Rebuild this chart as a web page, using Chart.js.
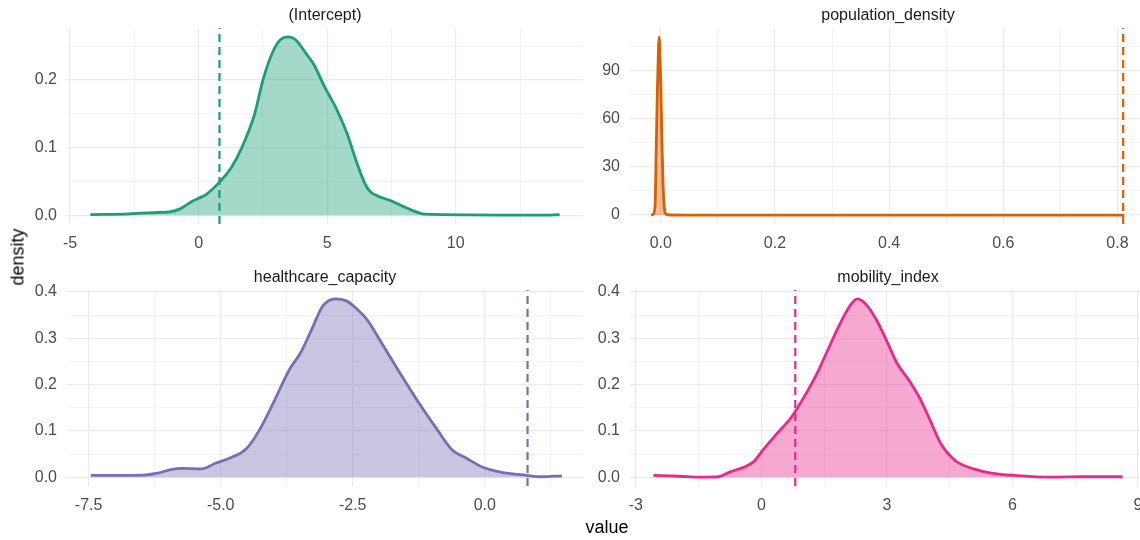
<!DOCTYPE html>
<html>
<head>
<meta charset="utf-8">
<script src="https://cdn.jsdelivr.net/npm/chart.js@4.4.1/dist/chart.umd.min.js"></script>
<style>
  html, body { margin: 0; padding: 0; background: #fff; }
  body { width: 1140px; height: 540px; position: relative; overflow: hidden; font-family: 'Liberation Sans', Arial, sans-serif; }
  canvas { position: absolute; }
  .axis-title { position: absolute; color: #000; font-size: 18px; white-space: nowrap; }
</style>
</head>
<body>
<canvas id="pIntercept" width="590" height="256" style="left:0px;top:0px"></canvas>
<canvas id="pPop" width="590" height="256" style="left:563px;top:0px"></canvas>
<canvas id="pHealth" width="590" height="256" style="left:0px;top:262px"></canvas>
<canvas id="pMob" width="590" height="256" style="left:563px;top:262px"></canvas>
<div class="axis-title" style="left:18px;top:257px;transform:translate(-50%,-50%) rotate(-90deg)">density</div>
<div class="axis-title" style="left:607px;top:527px;transform:translate(-50%,-50%)">value</div>

<script>
// posterior densities
const vlineX = 0.81;

const interceptX = [-4.21, -2.7, -1.6, -1.12, -0.74, -0.23, 0.0, 0.3, 0.81, 1.28, 1.68, 2.18, 2.5, 2.9, 3.19, 3.48, 3.76, 4.2, 4.48, 4.91, 5.34, 5.78, 6.13, 6.49, 6.7, 6.93, 7.5, 8.07, 8.8, 10.5, 13.4, 14.04];
const interceptY = [0.001, 0.002, 0.004, 0.005, 0.009, 0.021, 0.025, 0.031, 0.049, 0.071, 0.1, 0.15, 0.2, 0.243, 0.26, 0.264, 0.26, 0.238, 0.223, 0.189, 0.159, 0.12, 0.08, 0.045, 0.034, 0.029, 0.021, 0.011, 0.0015, 0.0005, 0.0, 0.001];

const popX = [-0.017, -0.013, -0.010, -0.008, -0.006, -0.004, -0.003, -0.002, 0.000, 0.002, 0.004, 0.006, 0.008, 0.011, 0.05, 0.3, 0.6, 0.812];
const popY = [0, 0.6, 7, 42, 78, 105, 111, 106, 80, 45, 18, 5, 1, 0.2, 0, 0, 0, 0];

const healthX = [-7.46, -6.8, -6.41, -6.22, -5.92, -5.73, -5.36, -5.1, -4.79, -4.51, -4.27, -3.98, -3.7, -3.49, -3.28, -3.07, -2.83, -2.61, -2.44, -2.23, -1.95, -1.6, -1.24, -0.89, -0.61, -0.33, -0.05, 0.3, 0.79, 1.08, 1.46];
const healthY = [0.004, 0.004, 0.005, 0.008, 0.017, 0.019, 0.018, 0.03, 0.043, 0.062, 0.101, 0.166, 0.232, 0.268, 0.318, 0.369, 0.385, 0.38, 0.365, 0.34, 0.289, 0.224, 0.159, 0.101, 0.058, 0.04, 0.022, 0.011, 0.004, 0.001, 0.003];

const mobX = [-2.58, -1.97, -1.45, -1.02, -0.76, -0.41, -0.19, 0.03, 0.37, 0.72, 1.07, 1.33, 1.59, 1.85, 2.11, 2.29, 2.5, 2.72, 2.98, 3.24, 3.55, 3.81, 4.03, 4.29, 4.63, 5.07, 5.5, 6.03, 6.98, 7.59, 8.63];
const mobY = [0.004, 0.002, 0.0, 0.001, 0.011, 0.022, 0.033, 0.058, 0.094, 0.13, 0.181, 0.224, 0.275, 0.326, 0.369, 0.385, 0.373, 0.344, 0.297, 0.246, 0.206, 0.166, 0.123, 0.072, 0.036, 0.018, 0.009, 0.004, 0.0, 0.001, 0.001];

// axis limits (ggplot expanded ranges)
const interceptXLim = [-5.12, 14.95], interceptYLim = [-0.013, 0.277];
const popXLim = [-0.054, 0.85], popYLim = [-5.55, 116.5];
const healthXLim = [-7.91, 1.86], healthYLim = [-0.019, 0.404];
const mobXLim = [-3.14, 9.19], mobYLim = [-0.019, 0.404];

// ticks: major (labelled) and minor (grid only)
const interceptXMajor = [-5, 0, 5, 10], interceptXLabels = ['-5', '0', '5', '10'], interceptXMinor = [-2.5, 2.5, 7.5, 12.5];
const interceptYMajor = [0, 0.1, 0.2], interceptYLabels = ['0.0', '0.1', '0.2'], interceptYMinor = [0.05, 0.15, 0.25];
const popXMajor = [0, 0.2, 0.4, 0.6, 0.8], popXLabels = ['0.0', '0.2', '0.4', '0.6', '0.8'], popXMinor = [0.1, 0.3, 0.5, 0.7];
const popYMajor = [0, 30, 60, 90], popYLabels = ['0', '30', '60', '90'], popYMinor = [15, 45, 75, 105];
const healthXMajor = [-7.5, -5, -2.5, 0], healthXLabels = ['-7.5', '-5.0', '-2.5', '0.0'], healthXMinor = [-6.25, -3.75, -1.25, 1.25];
const densYMajor = [0, 0.1, 0.2, 0.3, 0.4], densYLabels = ['0.0', '0.1', '0.2', '0.3', '0.4'], densYMinor = [0.05, 0.15, 0.25, 0.35];
const mobXMajor = [-3, 0, 3, 6, 9], mobXLabels = ['-3', '0', '3', '6', '9'], mobXMinor = [-1.5, 1.5, 4.5, 7.5];

const FONT = "'Liberation Sans', Arial, sans-serif";
const GRID = '#EBEBEB';

function makeAxis(lim, major, labels, minor, isX) {
    return {
        type: 'linear',
        min: lim[0],
        max: lim[1],
        bounds: 'data',
        border: { display: false },
        grid: {
            color: GRID,
            drawTicks: false,
            lineWidth: ctx => (ctx.tick && major.includes(ctx.tick.value)) ? 1.2 : 0.6
        },
        afterBuildTicks: scale => {
            scale.ticks = major.concat(minor).sort((a, b) => a - b).map(v => ({ value: v }));
        },
        afterFit: scale => {
            if (isX) scale.height = 32; else scale.width = 67;
        },
        ticks: {
            autoSkip: false,
            maxRotation: 0,
            padding: 10,
            color: '#4D4D4D',
            font: { family: FONT, size: 16 },
            callback: value => {
                const i = major.indexOf(value);
                return i >= 0 ? labels[i] : '';
            }
        }
    };
}

function graficar(id, titulo, color, relleno, xs, ys, xLim, yLim, xMajor, xLabels, xMinor, yMajor, yLabels, yMinor) {
    const puntos = xs.map((x, i) => ({ x: x, y: ys[i] }));
    const linea = [{ x: vlineX, y: yLim[0] }, { x: vlineX, y: yLim[1] }];
    new Chart(document.getElementById(id), {
        type: 'line',
        data: {
            datasets: [{
                data: linea,
                borderColor: color,
                borderWidth: 2.2,
                borderDash: [8, 5],
                pointRadius: 0,
                fill: false,
                order: 0
            }, {
                data: puntos,
                borderColor: color,
                backgroundColor: relleno,
                borderWidth: 2.8,
                pointRadius: 0,
                fill: 'origin',
                cubicInterpolationMode: 'monotone',
                order: 1
            }]
        },
        options: {
            responsive: false,
            animation: false,
            devicePixelRatio: 1,
            layout: { padding: { left: 0, right: 7, top: 0, bottom: 0 } },
            plugins: {
                legend: { display: false },
                tooltip: { enabled: false },
                title: {
                    display: true,
                    text: titulo,
                    fullSize: false,
                    color: '#1A1A1A',
                    font: { family: FONT, size: 16, weight: 'normal', lineHeight: 1.2 },
                    padding: { top: 6, bottom: 2.8 }
                }
            },
            scales: {
                x: makeAxis(xLim, xMajor, xLabels, xMinor, true),
                y: makeAxis(yLim, yMajor, yLabels, yMinor, false)
            }
        }
    });
}

graficar('pIntercept', '(Intercept)', '#1B9E77', 'rgba(27,158,119,0.4)',
    interceptX, interceptY, interceptXLim, interceptYLim,
    interceptXMajor, interceptXLabels, interceptXMinor, interceptYMajor, interceptYLabels, interceptYMinor);
graficar('pPop', 'population_density', '#D95F02', 'rgba(217,95,2,0.4)',
    popX, popY, popXLim, popYLim,
    popXMajor, popXLabels, popXMinor, popYMajor, popYLabels, popYMinor);
graficar('pHealth', 'healthcare_capacity', '#7570B3', 'rgba(117,112,179,0.4)',
    healthX, healthY, healthXLim, healthYLim,
    healthXMajor, healthXLabels, healthXMinor, densYMajor, densYLabels, densYMinor);
graficar('pMob', 'mobility_index', '#E7298A', 'rgba(231,41,138,0.4)',
    mobX, mobY, mobXLim, mobYLim,
    mobXMajor, mobXLabels, mobXMinor, densYMajor, densYLabels, densYMinor);
</script>
</body>
</html>
